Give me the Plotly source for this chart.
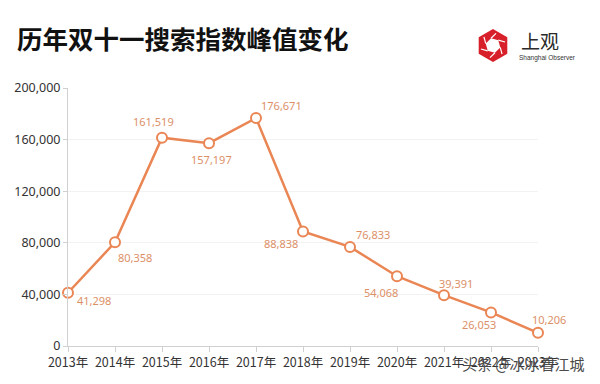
import math
import plotly.graph_objects as go

years = ["2013年", "2014年", "2015年", "2016年", "2017年", "2018年",
         "2019年", "2020年", "2021年", "2022年", "2023年"]
values = [41298, 80358, 161519, 157197, 176671, 88838,
          76833, 54068, 39391, 26053, 10206]
y_ticks = [0, 40000, 80000, 120000, 160000, 200000]
title_text = "历年双十一搜索指数峰值变化"

# label offsets in pixels (dx right, dy down)
label_offsets = [(26, 8), (20, 15), (-9, -16), (2, 16), (25, -13), (-22, 12),
                 (23, -12), (-16, 16), (12, -12), (-12, 12), (11, -13)]

W, H = 600, 384
L, R, T, B = 68, 62, 88, 38
pw, ph = W - L - R, H - T - B

def px(x):
    return (x - L) / pw

def py(y):
    return (H - B - y) / ph

LINE = "#EA8654"
LABEL = "#DC9068"

fig = go.Figure()
fig.add_trace(go.Scatter(
    x=years, y=values, mode="lines+markers",
    line=dict(color=LINE, width=2.5),
    marker=dict(size=10, color="white", line=dict(color=LINE, width=2)),
    cliponaxis=False, hoverinfo="skip",
))

annotations = []
for yr, v, (dx, dy) in zip(years, values, label_offsets):
    annotations.append(dict(
        x=yr, y=v, xref="x", yref="y", text=f"{v:,}", showarrow=False,
        xshift=dx, yshift=-dy,
        font=dict(size=11, color=LABEL, family="Noto Sans, DejaVu Sans"),
    ))

annotations.append(dict(
    x=px(15), y=py(37), xref="paper", yref="paper", xanchor="left", yanchor="middle",
    text="<b>" + title_text + "</b>", showarrow=False,
    font=dict(size=25.5, color="#111111", family="Noto Sans CJK SC"),
))
annotations.append(dict(
    x=px(519), y=py(41), xref="paper", yref="paper", xanchor="left", yanchor="middle",
    text="上观", showarrow=False,
    font=dict(size=19, color="#2a2a2a", family="Noto Sans CJK SC"),
))
annotations.append(dict(
    x=px(517), y=py(58), xref="paper", yref="paper", xanchor="left", yanchor="middle",
    text="Shanghai Observer", showarrow=False,
    font=dict(size=6.5, color="#333333", family="Liberation Sans"),
))
annotations.append(dict(
    x=px(587), y=py(363), xref="paper", yref="paper", xanchor="right", yanchor="middle",
    text="头条 @冰冰看江城", showarrow=False,
    font=dict(size=15, color="#4a4a4a", family="Noto Sans CJK SC"),
))

def hexpts(cx, cy, r, rot):
    pts = []
    for k in range(6):
        a = math.radians(60 * k + rot)
        pts.append((cx + r * math.cos(a), cy + r * math.sin(a)))
    return pts

def path_of(pts):
    return "M " + " L ".join(f"{px(a):.5f},{py(b):.5f}" for a, b in pts) + " Z"

CX, CY = 493, 45.5
outer = hexpts(CX, CY, 16.5, 90)
inner = hexpts(CX, CY, 7.5, 75)
shapes = [
    dict(type="path", xref="paper", yref="paper", path=path_of(outer),
         fillcolor="#D7202A", line=dict(width=0)),
    dict(type="path", xref="paper", yref="paper", path=path_of(inner),
         fillcolor="white", line=dict(width=0)),
]
for k in range(6):
    x0, y0 = inner[k]
    xp, yp = inner[k - 1]
    dx, dy = x0 - xp, y0 - yp
    n = math.hypot(dx, dy)
    x1, y1 = x0 + dx / n * 7, y0 + dy / n * 7
    shapes.append(dict(type="line", xref="paper", yref="paper",
                       x0=px(x0), y0=py(y0), x1=px(x1), y1=py(y1),
                       line=dict(color="white", width=1.2)))

fig.update_layout(
    width=W, height=H, margin=dict(l=L, r=R, t=T, b=B),
    paper_bgcolor="white", plot_bgcolor="white", showlegend=False,
    annotations=annotations, shapes=shapes,
    xaxis=dict(type="category", range=[0, 10], showgrid=False,
               showline=True, linecolor="#d0d0d0", linewidth=1,
               ticks="outside", ticklen=5, tickcolor="#d0d0d0",
               tickfont=dict(size=12.5, color="#333333", family="Noto Sans CJK SC")),
    yaxis=dict(range=[0, 200000], tickvals=y_ticks,
               ticktext=[f"{t:,}" for t in y_ticks],
               showgrid=True, gridcolor="#f2f2f2", zeroline=False,
               showline=True, linecolor="#d0d0d0", linewidth=1,
               ticks="outside", ticklen=4, tickcolor="#d0d0d0",
               tickfont=dict(size=12.5, color="#333333", family="Noto Sans")),
)

fig.write_html("out.html", config={"displayModeBar": False},
               post_script="document.body.style.margin='0';")
